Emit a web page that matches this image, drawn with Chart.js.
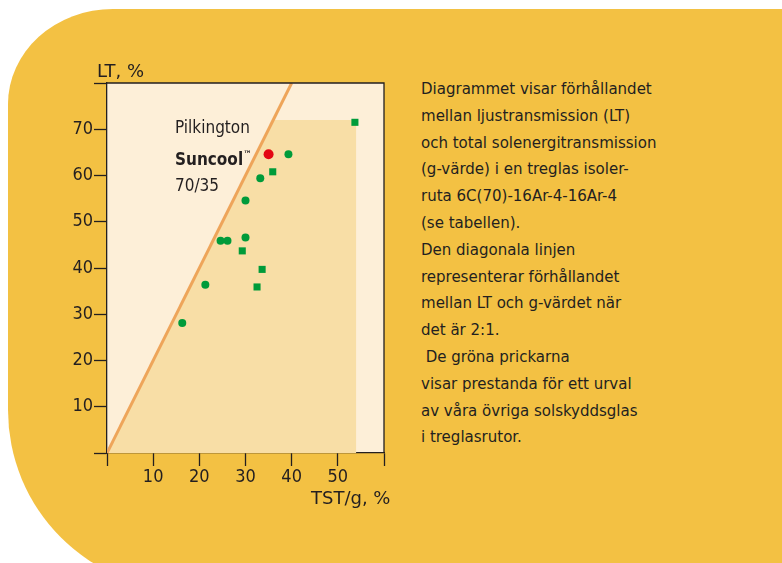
<!DOCTYPE html>
<html>
<head>
<meta charset="utf-8">
<script src="https://cdn.jsdelivr.net/npm/chart.js@4"></script>
<style>
  html, body { margin: 0; padding: 0; background: #fff; width: 782px; height: 563px; overflow: hidden; }
  body { position: relative; font-family: "DejaVu Sans Condensed", "DejaVu Sans", sans-serif; color: #231f20; }
  #panel { position: absolute; left: 8px; top: 9px; width: 800px; height: 581px; background: #f3c143;
    border-top-left-radius: 105px 95px; border-bottom-left-radius: 180px; }
  #wrap { position: absolute; left: 50px; top: 70px; width: 340px; height: 420px; }
  .lbl { position: absolute; font-family: "DejaVu Sans", sans-serif; font-size: 18px; white-space: nowrap; }
  #info { position: absolute; left: 421px; top: 75px; font-size: 16.7px; line-height: 26.8px; white-space: pre; }
  #brand { position: absolute; left: 175px; top: 114px; font-size: 17px; line-height: 26.5px; }
  #brand b sup { font-size: 9px; vertical-align: 8px; }
</style>
</head>
<body>
<div id="panel"></div>
<div id="wrap"><canvas id="ltChart" width="340" height="420"></canvas></div>
<div class="lbl" id="yTitle" style="left:97px; top:60px;">LT, %</div>
<div class="lbl" id="xTitle" style="left:311px; top:487px;">TST/g, %</div>
<div id="brand">Pilkington<br><b>Suncool<sup>™</sup></b><br>70/35</div>
<div id="info">Diagrammet visar förhållandet
mellan ljustransmission (LT)
och total solenergitransmission
(g-värde) i en treglas isoler-
ruta 6C(70)-16Ar-4-16Ar-4
(se tabellen).
Den diagonala linjen
representerar förhållandet
mellan LT och g-värdet när
det är 2:1.
 De gröna prickarna
visar prestanda för ett urval
av våra övriga solskyddsglas
i treglasrutor.</div>
<script>
'use strict';

// g-value (TST) on x, LT on y
let suncoolG = [35];
let suncoolLT = [64.6];

let dotG = [39.3, 33.2, 30.0, 30.0, 24.6, 26.1, 21.3, 16.3];
let dotLT = [64.6, 59.4, 54.6, 46.6, 45.9, 45.9, 36.4, 28.1];

let squareG = [53.7, 35.9, 29.3, 33.6, 32.5];
let squareLT = [71.5, 60.8, 43.7, 39.7, 35.9];

// 2:1 line and the shaded area below it
let ratioG = [0, 40];
let ratioLT = [0, 80];
let areaG = [0, 36, 54, 54];
let areaLT = [0, 72, 72, 0];

let xTicks = [0, 10, 20, 30, 40, 50, 60];
let yTicks = [0, 10, 20, 30, 40, 50, 60, 70, 80];

function toPoints(xs, ys) {
  return xs.map(function (x, i) {
    return { x: x, y: ys[i] };
  });
}

let ink = '#231f20';

let plotBox = {
  id: 'plotBox',
  beforeDraw: function (chart) {
    let a = chart.chartArea;
    let c = chart.ctx;
    c.save();
    c.fillStyle = '#fdefd8';
    c.fillRect(a.left, a.top, a.right - a.left, a.bottom - a.top);
    c.restore();
  },
  afterDraw: function (chart) {
    let a = chart.chartArea;
    let c = chart.ctx;
    c.save();
    c.strokeStyle = ink;
    c.lineWidth = 1.3;
    c.beginPath();
    c.moveTo(a.left, a.top);
    c.lineTo(a.right, a.top);
    c.lineTo(a.right, a.bottom);
    c.stroke();
    c.restore();
  }
};

let ctx = document.getElementById('ltChart').getContext('2d');

new Chart(ctx, {
  type: 'scatter',
  data: {
    datasets: [{
      label: 'Suncool 70/35',
      data: toPoints(suncoolG, suncoolLT),
      pointStyle: 'circle',
      pointRadius: 5,
      backgroundColor: '#e30613',
      borderWidth: 0,
      order: 0
    }, {
      label: 'Övriga (prick)',
      data: toPoints(dotG, dotLT),
      pointStyle: 'circle',
      pointRadius: 4,
      backgroundColor: '#009b3a',
      borderWidth: 0,
      order: 1
    }, {
      label: 'Övriga (kvadrat)',
      data: toPoints(squareG, squareLT),
      pointStyle: 'rect',
      pointRadius: 5,
      backgroundColor: '#009b3a',
      borderWidth: 0,
      order: 1
    }, {
      label: '2:1',
      data: toPoints(ratioG, ratioLT),
      showLine: true,
      pointRadius: 0,
      borderColor: '#eea55a',
      borderWidth: 3,
      order: 2
    }, {
      label: 'area',
      data: toPoints(areaG, areaLT),
      showLine: true,
      pointRadius: 0,
      borderWidth: 0,
      borderColor: 'rgba(0,0,0,0)',
      backgroundColor: '#f8dea6',
      fill: 'origin',
      order: 3
    }]
  },
  options: {
    responsive: false,
    animation: false,
    devicePixelRatio: 1,
    layout: { padding: { top: 13, right: 6, left: 0, bottom: 0 } },
    plugins: {
      legend: { display: false },
      tooltip: { enabled: false }
    },
    scales: {
      x: {
        type: 'linear',
        min: 0,
        max: 60,
        afterFit: function (scale) { scale.height = 37; },
        afterBuildTicks: function (scale) {
          scale.ticks = xTicks.map(function (v) { return { value: v }; });
        },
        ticks: {
          color: ink,
          padding: 1,
          maxRotation: 0,
          font: { family: '"DejaVu Sans Condensed", "DejaVu Sans"', size: 18 },
          callback: function (v) { return (v === 0 || v === 60) ? '' : String(v); }
        },
        grid: { drawOnChartArea: false, drawTicks: true, tickLength: 13, tickWidth: 1.3, tickColor: ink },
        border: { display: true, color: ink, width: 1.3 }
      },
      y: {
        type: 'linear',
        min: 0,
        max: 80,
        afterFit: function (scale) { scale.width = 57; },
        afterBuildTicks: function (scale) {
          scale.ticks = yTicks.map(function (v) { return { value: v }; });
        },
        ticks: {
          color: ink,
          padding: 1,
          font: { family: '"DejaVu Sans Condensed", "DejaVu Sans"', size: 18 },
          callback: function (v) { return (v === 0 || v === 80) ? '' : String(v); }
        },
        grid: { drawOnChartArea: false, drawTicks: true, tickLength: 13, tickWidth: 1.3, tickColor: ink },
        border: { display: true, color: ink, width: 1.3 }
      }
    }
  },
  plugins: [plotBox]
});
</script>
</body>
</html>
